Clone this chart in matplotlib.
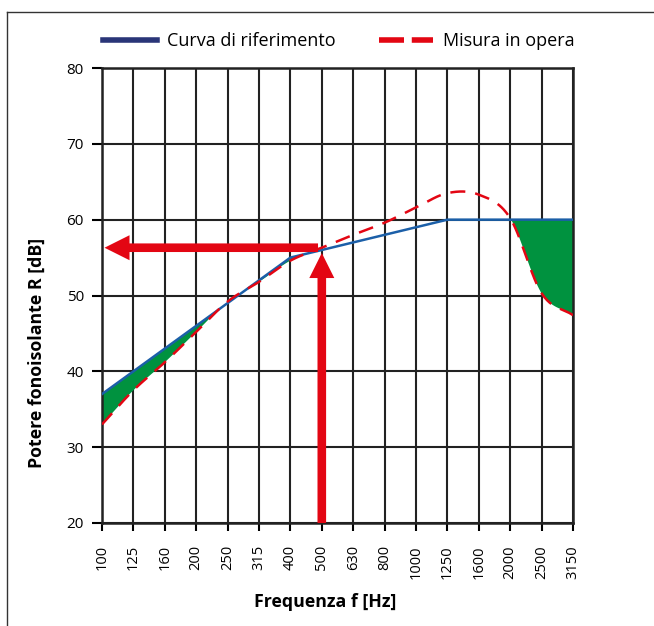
import numpy as np
import matplotlib.pyplot as plt
from matplotlib.lines import Line2D

plt.rcParams['font.family'] = ['Open Sans', 'DejaVu Sans']

# Frequenze di terzo d'ottava [Hz]
freq_labels = ['100', '125', '160', '200', '250', '315', '400', '500',
               '630', '800', '1000', '1250', '1600', '2000', '2500', '3150']
# Curva di riferimento traslata [dB]
curva_rif = [37, 40, 43, 46, 49, 52, 55, 56, 57, 58, 59, 60, 60, 60, 60, 60]
# Misura in opera [dB]
misura = [33, 37.5, 41.2, 45.2, 49.2, 51.8, 54.6, 56.3, 58.0, 59.6, 61.6,
          63.5, 63.3, 60.2, 50.3, 47.4]
# Indice di valutazione letto a 500 Hz
r_500 = 56.0

BLU = '#1b5fa8'
BLU_LEG = '#2a3578'
ROSSO = '#e30613'
VERDE = '#00923f'

x = np.arange(len(freq_labels))


def catmull_rom(y, n=40):
    # curva liscia passante per i punti misurati
    y = np.asarray(y, dtype=float)
    m = np.gradient(y)
    xs, ys = [], []
    for i in range(len(y) - 1):
        t = np.linspace(0, 1, n, endpoint=False)
        h00 = 2 * t**3 - 3 * t**2 + 1
        h10 = t**3 - 2 * t**2 + t
        h01 = -2 * t**3 + 3 * t**2
        h11 = t**3 - t**2
        xs.append(i + t)
        ys.append(h00 * y[i] + h10 * m[i] + h01 * y[i + 1] + h11 * m[i + 1])
    xs.append([len(y) - 1])
    ys.append([y[-1]])
    return np.concatenate(xs), np.concatenate(ys)


xm, ym = catmull_rom(misura)
yr = np.interp(xm, x, curva_rif)

fig = plt.figure(figsize=(6.54, 6.26), dpi=100)
ax = fig.add_axes([102 / 654, 1 - 523 / 626, 471 / 654, 455 / 626])

# scostamenti sfavorevoli
ax.fill_between(xm, ym, yr, where=ym < yr, interpolate=True,
                color=VERDE, lw=0, zorder=2)
ax.plot(x, curva_rif, color=BLU, lw=1.8, zorder=3)
ax.plot(xm, ym, color=ROSSO, lw=1.8, dashes=(6, 4), zorder=3)

# frecce di lettura dell'indice a 500 Hz
i500 = freq_labels.index('500')
freccia = dict(arrowstyle='simple,head_length=1.8,head_width=1.8,tail_width=0.62',
               color=ROSSO, lw=0, shrinkA=0, shrinkB=0, mutation_scale=10)
ax.annotate('', xy=(0.08, r_500 + 0.3), xytext=(i500 - 0.12, r_500 + 0.3),
            arrowprops=freccia, zorder=5)
ax.annotate('', xy=(i500, r_500 - 0.4), xytext=(i500, 20),
            arrowprops=freccia, zorder=5)

ax.set_xlim(0, 15)
ax.set_ylim(20, 80)
ax.set_xticks(x)
ax.set_xticklabels(freq_labels, rotation=90, fontsize=10.5)
ax.set_yticks(np.arange(20, 81, 10))
ax.tick_params(axis='y', labelsize=11, length=7, width=1.5, pad=6)
ax.tick_params(axis='x', length=6, width=1.5, pad=10)
ax.grid(True, color='#222222', lw=1.5, zorder=1)
ax.set_axisbelow(True)
for s in ax.spines.values():
    s.set_linewidth(1.8)
    s.set_color('#222222')

fig.text(37 / 654, 1 - 353 / 626, 'Potere fonoisolante R [dB]', rotation=90,
         ha='center', va='center', fontsize=12.8, fontweight='bold')
fig.text(325 / 654, 1 - 602 / 626, 'Frequenza f [Hz]', ha='center',
         va='center', fontsize=12.8, fontweight='bold')

handles = [Line2D([], [], color=BLU_LEG, lw=4),
           Line2D([], [], color=ROSSO, lw=4, dashes=(4.5, 1.4))]
fig.legend(handles, ['Curva di riferimento', 'Misura in opera'], ncol=2,
           loc='center', bbox_to_anchor=(0.518, 1 - 41 / 626), frameon=False,
           fontsize=13, handlelength=3.0, handletextpad=0.55, columnspacing=2.4)

# cornice
fig.add_artist(Line2D([7 / 654, 1], [1 - 12 / 626] * 2,
                      transform=fig.transFigure, color='#333333', lw=1))
fig.add_artist(Line2D([7 / 654] * 2, [0, 1 - 12 / 626],
                      transform=fig.transFigure, color='#333333', lw=1))

plt.savefig('out.png', dpi=100)
